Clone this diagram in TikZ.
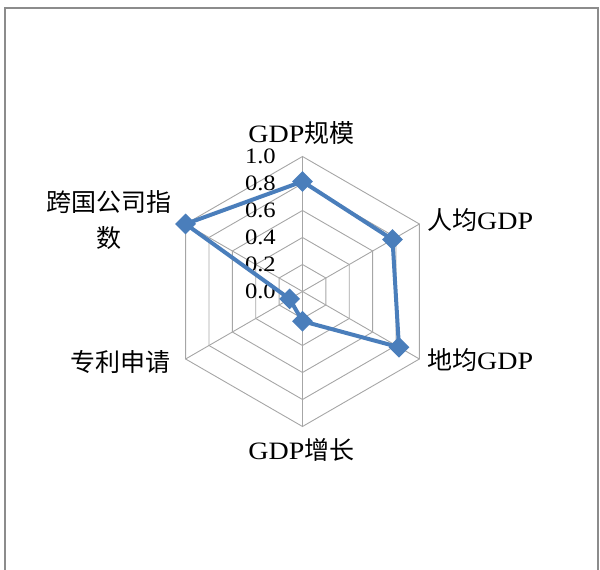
\documentclass[tikz,border=0pt]{standalone}
\usepackage{fontspec}
\setmainfont{Liberation Serif}[FakeStretch=1.12]
\newfontfamily\cjk{Noto Sans CJK SC}
\usetikzlibrary{shapes.geometric}
\definecolor{serblue}{HTML}{4A7EBB}
\definecolor{gridgray}{HTML}{A6A6A6}
\definecolor{framegray}{HTML}{8C8C8C}
\tikzset{
  gridline/.style={draw=gridgray, line width=0.9pt},
  frameline/.style={draw=framegray, line width=2pt},
  dataline/.style={draw=serblue, line width=4pt, line join=miter},
  marker/.style={diamond, fill=serblue, inner sep=0pt, minimum width=21pt, minimum height=21pt},
  ticklbl/.style={anchor=east, inner sep=0pt, font=\fontsize{22}{24}\selectfont},
  catlbl/.style={inner sep=0pt, font=\fontsize{25}{36}\selectfont},
}
\begin{document}
\begin{tikzpicture}[x=1pt,y=1pt]
\useasboundingbox (0,0) rectangle (600,570);
\begin{scope}
  \clip (0,0) rectangle (600,570);
  \coordinate (fbl) at (4.5,-5);
  \coordinate (ftl) at (4.5,562);
  \coordinate (ftr) at (598,562);
  \coordinate (fbr) at (598,-5);
  \draw[frameline] (fbl) -- (ftl) -- (ftr) -- (fbr);
\end{scope}
\begin{scope}[shift={(302.5,278.5)}]
  \coordinate (c) at (0,0);
  \foreach \k in {1,...,5}{
    \draw[gridline] (90:27*\k) -- (30:27*\k) -- (-30:27*\k) -- (-90:27*\k) -- (-150:27*\k) -- (150:27*\k) -- cycle;
  }
  \foreach \a [count=\i] in {90,30,-30,-90,-150,150}{
    \coordinate (v\i) at (\a:135);
    \draw[gridline] (c) -- (v\i);
  }
  \foreach \k/\t in {0/0.0,1/0.2,2/0.4,3/0.6,4/0.8,5/1.0}{
    \node[ticklbl] (t\k) at (-26.5,27*\k) {\t};
  }
  \coordinate (d1) at (90:0.815*135);
  \coordinate (d2) at (30:0.77*135);
  \coordinate (d3) at (-30:0.825*135);
  \coordinate (d4) at (-90:0.22*135);
  \coordinate (d5) at (-150:0.11*135);
  \coordinate (d6) at (150:1.0*135);
  \draw[dataline] (d1) -- (d2) -- (d3) -- (d4) -- (d5) -- (d6) -- cycle;
  \foreach \i in {1,...,6}{
    \node[marker] (m\i) at (d\i) {};
  }
\end{scope}
\node[catlbl] (l1) at (301.5,437) {GDP{\cjk 规模}};
\node[catlbl, anchor=west] (l2) at (427,350) {{\cjk 人均}GDP};
\node[catlbl, anchor=west] (l3) at (427,210) {{\cjk 地均}GDP};
\node[catlbl] (l4) at (301.5,120) {GDP{\cjk 增长}};
\node[catlbl, anchor=east] (l5) at (171,208) {\cjk 专利申请};
\node[catlbl, align=center] (l6) at (109,350) {\cjk 跨国公司指\\\cjk 数};
\end{tikzpicture}
\end{document}
